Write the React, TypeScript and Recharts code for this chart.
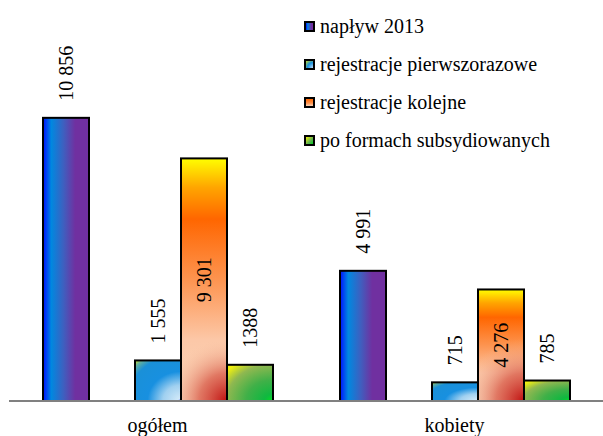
import React from "react";
import { BarChart, Bar, XAxis, YAxis, LabelList, Legend } from "recharts";

const categories = ["ogółem", "kobiety"];
const naplyw = [10856, 4991];
const pierwszorazowe = [1555, 715];
const kolejne = [9301, 4276];
const subsydiowane = [1388, 785];

const naplywLabels = ["10 856", "4 991"];
const pierwszorazoweLabels = ["1 555", "715"];
const kolejneLabels = ["9 301", "4 276"];
const subsydiowaneLabels = ["1388", "785"];

const seriesNames = [
  "napływ 2013",
  "rejestracje pierwszorazowe",
  "rejestracje kolejne",
  "po formach subsydiowanych",
];

const data = categories.map((name, i) => ({
  name,
  naplyw: naplyw[i],
  spacer: null,
  pierwszorazowe: pierwszorazowe[i],
  kolejne: kolejne[i],
  subsydiowane: subsydiowane[i],
  naplywLabel: naplywLabels[i],
  pierwszorazoweLabel: pierwszorazoweLabels[i],
  kolejneLabel: kolejneLabels[i],
  subsydiowaneLabel: subsydiowaneLabels[i],
}));

const FONT =
  "'Times New Roman', Times, 'Liberation Serif', Tinos, 'Noto Serif', FreeSerif, 'Nimbus Roman', 'DejaVu Serif', serif";

const legendSwatches = [
  "linear-gradient(90deg, #0010ff 0%, #0088e0 25%, #7030a0 75%)",
  "radial-gradient(circle at 100% 100%, #c8e0f8 0%, #1890e0 55%, #c8d820 100%)",
  "linear-gradient(180deg, #ff6600 0%, #fd9450 60%, #fad4b8 100%)",
  "linear-gradient(135deg, #f0f010 0%, #60b050 60%, #00d020 100%)",
];

const makeShape = (fillId: string, overlay?: boolean) => (props: any) => {
  const { x, y, width, height, index } = props;
  if (!height || height <= 0) return null;
  const gid = `red-${index}`;
  return (
    <g>
      <rect x={x} y={y} width={width} height={height} fill={`url(#${fillId})`} />
      {overlay && (
        <>
          <defs>
            <radialGradient
              id={gid}
              gradientUnits="userSpaceOnUse"
              cx={x + width}
              cy={y + height}
              r={width * 1.35}
            >
              <stop offset="0%" stopColor="#c01010" stopOpacity={1} />
              <stop offset="45%" stopColor="#d85a48" stopOpacity={0.75} />
              <stop offset="100%" stopColor="#f8c8a8" stopOpacity={0} />
            </radialGradient>
          </defs>
          <rect x={x} y={y} width={width} height={height} fill={`url(#${gid})`} />
        </>
      )}
      <rect x={x} y={y} width={width} height={height} fill="none" stroke="#000" strokeWidth={2} />
    </g>
  );
};

const boxOf = (props: any) => {
  const vb = props.viewBox || {};
  return {
    x: props.x ?? vb.x,
    y: props.y ?? vb.y,
    width: props.width ?? vb.width,
    height: props.height ?? vb.height,
  };
};

const aboveLabel = (props: any) => {
  const { x, y, width } = boxOf(props);
  const cx = x + width / 2 + 7;
  const ty = y - 17;
  return (
    <text
      x={cx}
      y={ty}
      transform={`rotate(-90, ${cx}, ${ty})`}
      textAnchor="start"
      style={{ fontFamily: FONT }}
      fontSize={20}
      fill="#000"
    >
      {props.value}
    </text>
  );
};

const insideLabel = (props: any) => {
  const { x, y, width, height } = boxOf(props);
  const cx = x + width / 2 + 7;
  const ty = y + height / 2;
  return (
    <text
      x={cx}
      y={ty}
      transform={`rotate(-90, ${cx}, ${ty})`}
      textAnchor="middle"
      style={{ fontFamily: FONT }}
      fontSize={20}
      fill="#000"
    >
      {props.value}
    </text>
  );
};

const LegendContent = () => (
  <div style={{ fontFamily: FONT, fontSize: 20, color: "#000" }}>
    {seriesNames.map((n, i) => (
      <div key={n} style={{ display: "flex", alignItems: "center", height: 38, lineHeight: "38px" }}>
        <span
          style={{
            display: "inline-block",
            width: 7,
            height: 7,
            border: "2px solid #000",
            background: legendSwatches[i],
            marginRight: 5,
          }}
        />
        <span style={{ whiteSpace: "nowrap" }}>{n}</span>
      </div>
    ))}
  </div>
);

export default function App() {
  return (
    <div style={{ width: 603, height: 436, background: "#fff", fontFamily: FONT }}>
      <style>{"body{margin:0}"}</style>
      <BarChart
        width={603}
        height={436}
        data={data}
        margin={{ top: 88, right: 0, left: 9, bottom: 0 }}
        barGap={0}
        barSize={46}
        style={{ fontFamily: FONT }}
      >
        <defs>
          <linearGradient id="gNaplyw" x1="0" y1="0" x2="1" y2="0">
            <stop offset="0%" stopColor="#0010ff" />
            <stop offset="18%" stopColor="#0088e0" />
            <stop offset="45%" stopColor="#3f5fbf" />
            <stop offset="70%" stopColor="#7030a0" />
            <stop offset="100%" stopColor="#7030a0" />
          </linearGradient>
          <radialGradient id="gPierw" cx="1" cy="1" r="1.4" fx="1" fy="1">
            <stop offset="0%" stopColor="#5060ff" />
            <stop offset="5%" stopColor="#d0e8f8" />
            <stop offset="28%" stopColor="#a0d0f0" />
            <stop offset="52%" stopColor="#1890e0" />
            <stop offset="82%" stopColor="#1a90d8" />
            <stop offset="93%" stopColor="#60b0a0" />
            <stop offset="100%" stopColor="#d0e020" />
          </radialGradient>
          <linearGradient id="gKolejne" x1="0" y1="0" x2="0" y2="1">
            <stop offset="0%" stopColor="#ffff00" />
            <stop offset="12%" stopColor="#ffa500" />
            <stop offset="25%" stopColor="#ff6600" />
            <stop offset="50%" stopColor="#fd9450" />
            <stop offset="75%" stopColor="#fcc8a8" />
            <stop offset="100%" stopColor="#fad4b8" />
          </linearGradient>
          <radialGradient id="gSubs" cx="1" cy="1" r="1.3" fx="1" fy="1">
            <stop offset="0%" stopColor="#00e020" />
            <stop offset="15%" stopColor="#10b840" />
            <stop offset="45%" stopColor="#40b048" />
            <stop offset="78%" stopColor="#90b850" />
            <stop offset="100%" stopColor="#f0f010" />
          </radialGradient>
        </defs>
        <XAxis
          xAxisId="edges"
          type="number"
          domain={[0, 2]}
          ticks={[0, 1, 2]}
          height={1}
          axisLine={false}
          tick={false}
          tickLine={{ stroke: "#808080", strokeWidth: 2 }}
          tickSize={6}
        />
        <XAxis
          dataKey="name"
          interval={0}
          height={34}
          axisLine={{ stroke: "#808080", strokeWidth: 2 }}
          tickLine={false}
          tickSize={0}
          tickMargin={17}
          tick={{ fill: "#000", fontSize: 20, fontFamily: FONT }}
        />
        <YAxis hide domain={[0, 12000]} />
        <Legend
          layout="horizontal"
          verticalAlign="middle"
          content={<LegendContent />}
          wrapperStyle={{ position: "absolute", top: 7, left: 304, width: 299 }}
        />
        <Bar dataKey="naplyw" isAnimationActive={false} shape={makeShape("gNaplyw")}>
          <LabelList dataKey="naplywLabel" content={aboveLabel} />
        </Bar>
        <Bar dataKey="spacer" isAnimationActive={false} legendType="none" fill="none" />
        <Bar dataKey="pierwszorazowe" isAnimationActive={false} shape={makeShape("gPierw")}>
          <LabelList dataKey="pierwszorazoweLabel" content={aboveLabel} />
        </Bar>
        <Bar dataKey="kolejne" isAnimationActive={false} shape={makeShape("gKolejne", true)}>
          <LabelList dataKey="kolejneLabel" content={insideLabel} />
        </Bar>
        <Bar dataKey="subsydiowane" isAnimationActive={false} shape={makeShape("gSubs")}>
          <LabelList dataKey="subsydiowaneLabel" content={aboveLabel} />
        </Bar>
      </BarChart>
    </div>
  );
}
